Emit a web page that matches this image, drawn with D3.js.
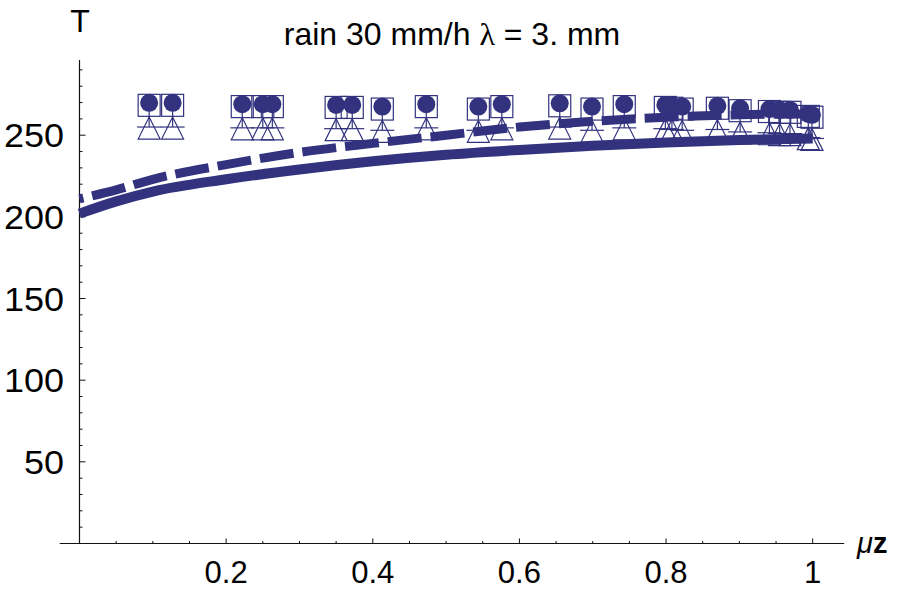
<!DOCTYPE html>
<html>
<head>
<meta charset="utf-8">
<script src="https://cdn.jsdelivr.net/npm/d3@7"></script>
<style>
    body { margin: 0; background: #fff; }
    svg { font-family: 'Liberation Sans', Arial, sans-serif; }
</style>
</head>
<body>
<svg id="chart" width="904" height="591"></svg>
<script>
// data
var muz = [0.095, 0.127, 0.222, 0.250, 0.263, 0.350, 0.372, 0.413, 0.473, 0.544, 0.576, 0.655,
    0.699, 0.743, 0.799, 0.808, 0.822, 0.870, 0.901, 0.941, 0.955, 0.969, 0.994, 0.999]
var circles = [269.8, 269.8, 269, 269, 269, 268.5, 268.5, 267.5, 269, 267.5, 269, 269.5,
    267.5, 269, 268.5, 268, 267.5, 268, 266.5, 266, 265.5, 265.5, 263, 262.5]
var squares = [268.3, 268.3, 267.5, 267.5, 267.5, 267, 267, 266, 267.5, 266, 267.5, 268,
    266, 267.5, 267, 266.5, 266, 266.5, 265, 264.5, 264, 264, 261.5, 261]
var triangles = [255, 255, 254.5, 254.5, 254.5, 254, 254, 253, 254.5, 253, 254.5, 255,
    253, 254.5, 254, 253.5, 253, 253.5, 252, 251.5, 251, 251, 248.5, 248]

var curveX = [0, 0.05, 0.1, 0.2, 0.3, 0.4, 0.5, 0.6, 0.7, 0.8, 0.9, 1.0]
var solidT = [202, 209.5, 215.5, 223, 229, 234, 238, 241, 243.5, 245.5, 247, 248]
var dashedT = [211, 216.5, 223, 232, 239.5, 245, 250, 255, 258.5, 261, 262.5, 263]

var xTicks = [0.2, 0.4, 0.6, 0.8, 1]
var xTickLabels = ['0.2', '0.4', '0.6', '0.8', '1']
var yTicks = [50, 100, 150, 200, 250]

var color = '#32327f'
var svg = d3.select('#chart')

var x = d3.scaleLinear().domain([0, 1]).range([79.5, 812.7])
    , y = d3.scaleLinear().domain([0, 250]).range([543.5, 135.2])

var g = {
    axis: svg.append('g'),
    lines: svg.append('g'),
    marks: svg.append('g'),
    text: svg.append('g')
}

// axes, drawn by hand like Mathematica frames
g.axis.append('line')
    .attr('x1', x(-0.027)).attr('x2', x(1.043))
    .attr('y1', y(0)).attr('y2', y(0))
    .attr('stroke', '#111').attr('stroke-width', 1.2)
g.axis.append('line')
    .attr('x1', x(0)).attr('x2', x(0))
    .attr('y1', y(0)).attr('y2', y(296))
    .attr('stroke', '#111').attr('stroke-width', 1.2)

var xMinor = d3.range(1, 21).map(d => d * 0.05)
g.axis.selectAll('.xt')
    .data(xMinor)
    .join('line')
    .attr('x1', d => x(d)).attr('x2', d => x(d))
    .attr('y1', y(0))
    .attr('y2', (d, i) => y(0) - ((i + 1) % 4 == 0 ? 5 : 2.5))
    .attr('stroke', '#111').attr('stroke-width', 1)
var yMinor = d3.range(1, 30).map(d => d * 10)
g.axis.selectAll('.yt')
    .data(yMinor)
    .join('line')
    .attr('x1', x(0))
    .attr('x2', d => x(0) + (d % 50 == 0 ? 6 : 3))
    .attr('y1', d => y(d)).attr('y2', d => y(d))
    .attr('stroke', '#111').attr('stroke-width', 1)

g.text.selectAll('.xl')
    .data(xTicks)
    .join('text')
    .attr('x', d => x(d))
    .attr('y', 583)
    .attr('text-anchor', 'middle')
    .attr('font-size', 31)
    .text((d, i) => xTickLabels[i])
g.text.selectAll('.yl')
    .data(yTicks)
    .join('text')
    .attr('x', 64)
    .attr('y', d => y(d) + 12)
    .attr('text-anchor', 'end')
    .attr('font-size', 34)
    .attr('textLength', d => String(d).length * 20)
    .attr('lengthAdjust', 'spacingAndGlyphs')
    .text(d => d)

// curves
var line = d3.line()
    .x((d, i) => x(curveX[i]))
    .y(d => y(d))
    .curve(d3.curveMonotoneX)
g.lines.append('path')
    .attr('d', line(solidT))
    .attr('fill', 'none')
    .attr('stroke', color)
    .attr('stroke-width', 10)
g.lines.append('path')
    .attr('d', line(dashedT))
    .attr('fill', 'none')
    .attr('stroke', color)
    .attr('stroke-width', 9)
    .attr('stroke-dasharray', '34 9')
    .attr('stroke-dashoffset', 30)

// markers
var pts = muz.map((d, i) => ({ x: d, c: circles[i], s: squares[i], t: triangles[i] }))
var mk = g.marks.selectAll('g')
    .data(pts)
    .join('g')
mk.append('line')
    .attr('x1', d => x(d.x)).attr('x2', d => x(d.x))
    .attr('y1', d => y(d.c)).attr('y2', d => y(d.t))
    .attr('stroke', color).attr('stroke-width', 1.2)
mk.append('path')
    .attr('d', d => {
        var cx = x(d.x), cy = y(d.t)
        return `M${cx},${cy - 10}L${cx + 11},${cy + 12}L${cx - 11},${cy + 12}Z`
    })
    .attr('fill', 'none')
    .attr('stroke', color).attr('stroke-width', 1.2)
mk.append('line')
    .attr('x1', d => x(d.x) - 12).attr('x2', d => x(d.x) + 12)
    .attr('y1', d => y(d.t)).attr('y2', d => y(d.t))
    .attr('stroke', color).attr('stroke-width', 1.2)
mk.append('rect')
    .attr('x', d => x(d.x) - 11).attr('y', d => y(d.s) - 11)
    .attr('width', 22).attr('height', 22)
    .attr('fill', 'none')
    .attr('stroke', color).attr('stroke-width', 1.2)
mk.append('circle')
    .attr('cx', d => x(d.x)).attr('cy', d => y(d.c))
    .attr('r', 9)
    .attr('fill', color)

// labels
g.text.append('text')
    .attr('x', 80).attr('y', 32)
    .attr('text-anchor', 'middle')
    .attr('font-size', 32)
    .text('T')
var title = g.text.append('text')
    .attr('x', 452).attr('y', 45)
    .attr('text-anchor', 'middle')
    .attr('font-size', 32)
title.append('tspan').text('rain 30 mm/h ')
title.append('tspan').attr('font-family', "'Liberation Serif', serif").text('λ')
title.append('tspan').text(' = 3. mm')
var xl = g.text.append('text')
    .attr('x', 857).attr('y', 553)
    .attr('font-size', 29)
xl.append('tspan').attr('font-style', 'italic').text('μ')
xl.append('tspan').attr('font-weight', 'bold').text('z')
</script>
</body>
</html>
